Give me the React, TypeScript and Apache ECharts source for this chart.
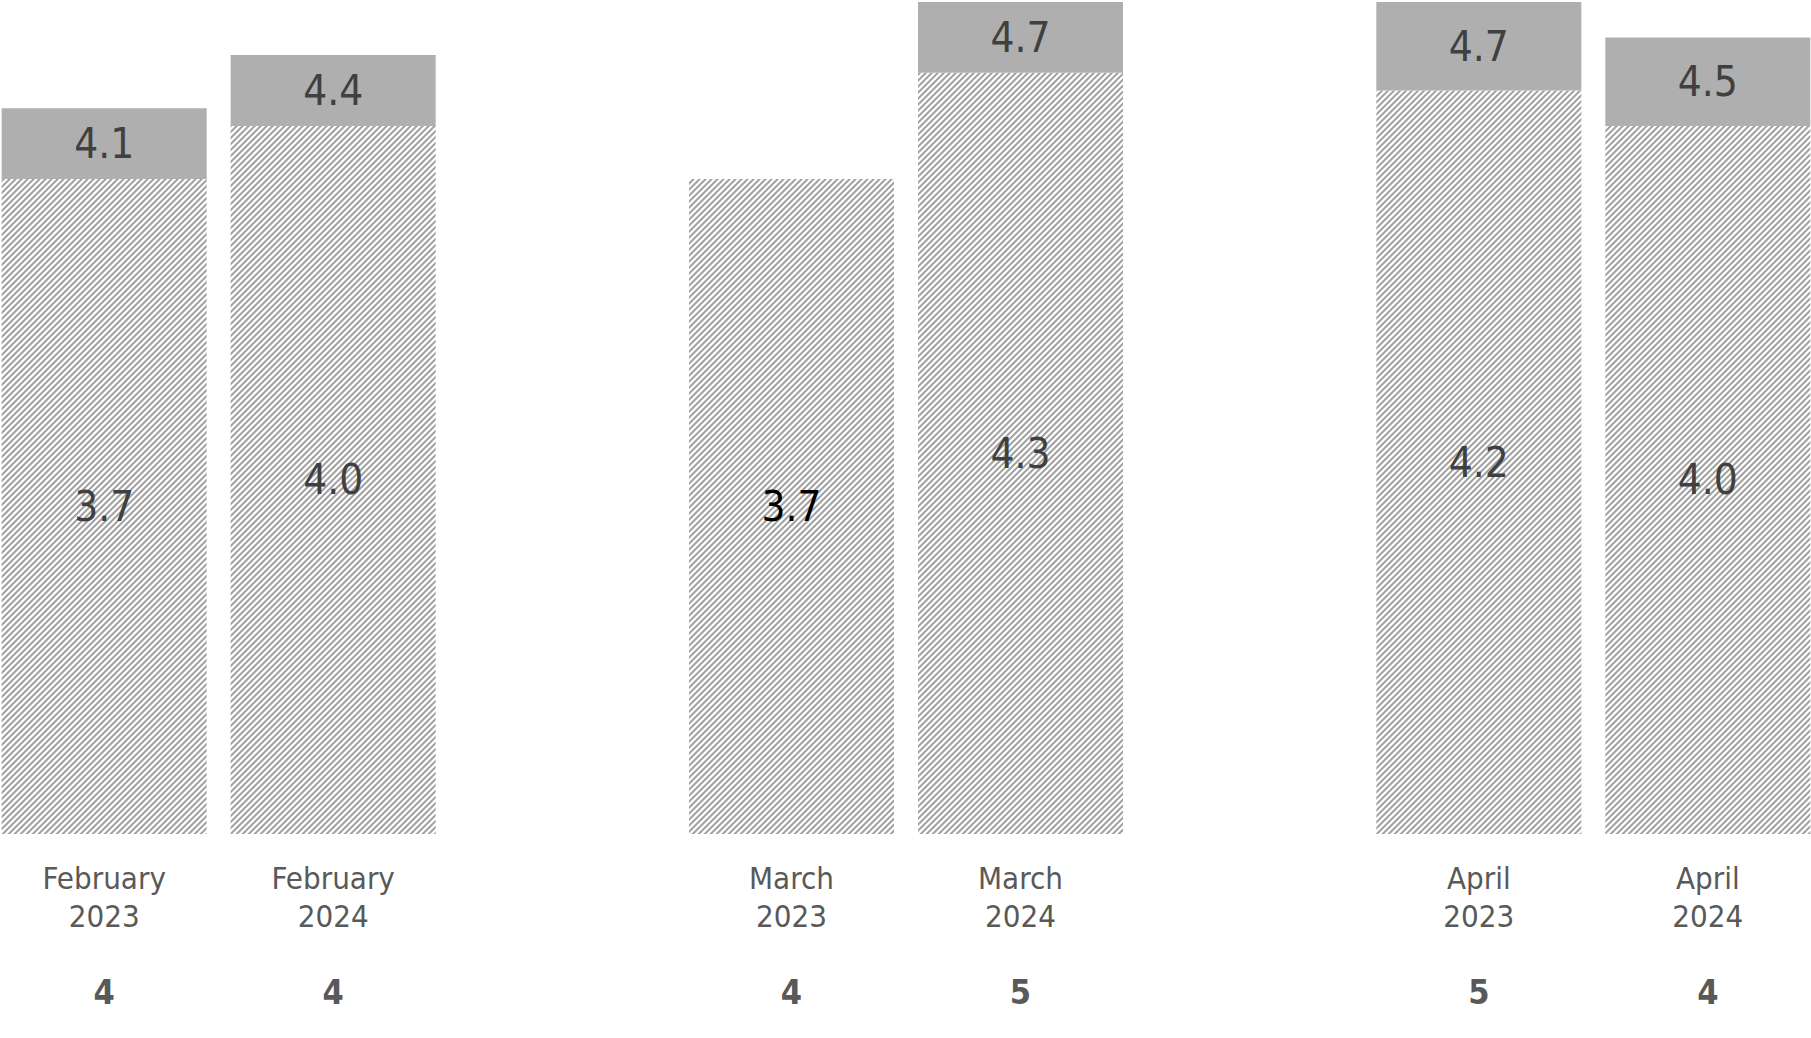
import React, { useEffect, useRef } from 'react';
import * as echarts from 'echarts';

const months = ['February', 'March', 'April'];
const years = ['2023', '2024'];
const base2023 = [3.7, 3.7, 4.2];
const base2024 = [4.0, 4.3, 4.0];
const total2023: (number | null)[] = [4.1, null, 4.7];
const total2024: (number | null)[] = [4.4, 4.7, 4.5];
const count2023 = [4, 4, 5];
const count2024 = [4, 5, 4];

const baseLabelColor2023 = ['#404040', '#000000', '#404040'];
const baseLabelColor2024 = ['#404040', '#404040', '#404040'];

const FONT = "'DejaVu Sans Condensed', 'DejaVu Sans', sans-serif";
const TILE = 6;

function makeHatch(): string {
  const n = TILE;
  const c = document.createElement('canvas');
  c.width = n;
  c.height = n;
  const ctx = c.getContext('2d')!;
  for (let y = 0; y < n; y++) {
    for (let x = 0; x < n; x++) {
      const d = (x + y) % n;
      ctx.fillStyle =
        d === 0 || d === 1 ? '#a2a2a2' : d === 2 ? '#c4c4c4' : d === 5 ? '#e6e6e6' : '#ffffff';
      ctx.fillRect(x, y, 1, 1);
    }
  }
  return c.toDataURL();
}

function yearSeries(
  stack: string,
  year: string,
  base: number[],
  total: (number | null)[],
  counts: number[],
  labelColors: string[],
  hatch: string
): any[] {
  return [
    {
      type: 'bar',
      stack,
      barWidth: 205,
      barGap: '11.7%',
      silent: true,
      data: base.map(() => 0),
      itemStyle: { color: 'transparent' },
      label: {
        show: true,
        position: 'bottom',
        distance: 25,
        lineHeight: 38,
        formatter: (p: any) =>
          `{a|${months[p.dataIndex]}}\n{a|${year}}\n{a| }\n{b|${counts[p.dataIndex]}}`,
        rich: {
          a: { fontSize: 31, lineHeight: 38, color: '#595959', fontFamily: FONT },
          b: { fontSize: 34, lineHeight: 38, color: '#595959', fontFamily: FONT, fontWeight: 'bold' },
        },
      },
    },
    {
      type: 'bar',
      stack,
      barWidth: 205,
      barGap: '11.7%',
      data: base.map((v, i) => ({ value: v, label: { color: labelColors[i] } })),
      itemStyle: {
        color: { image: hatch, repeat: 'repeat', imageWidth: TILE, imageHeight: TILE },
      },
      label: {
        show: true,
        position: 'inside',
        fontSize: 42,
        fontFamily: FONT,
        formatter: (p: any) => base[p.dataIndex].toFixed(1),
      },
    },
    {
      type: 'bar',
      stack,
      barWidth: 205,
      barGap: '11.7%',
      data: total.map((t, i) => (t == null ? null : +(t - base[i]).toFixed(2))),
      itemStyle: { color: '#afafaf' },
      label: {
        show: true,
        position: 'inside',
        fontSize: 42,
        fontFamily: FONT,
        color: '#404040',
        formatter: (p: any) => {
          const t = total[p.dataIndex];
          return t == null ? '' : t.toFixed(1);
        },
      },
    },
  ];
}

export default function App() {
  const ref = useRef<HTMLDivElement>(null);
  useEffect(() => {
    document.body.style.margin = '0';
    if (!ref.current) return;
    const chart = echarts.init(ref.current, undefined, { renderer: 'svg' });
    const hatch = makeHatch();
    chart.setOption({
      animation: false,
      backgroundColor: '#ffffff',
      grid: { left: 0, right: 0, top: 2, bottom: 204, containLabel: false },
      xAxis: {
        type: 'category',
        data: months,
        axisLine: { show: false },
        axisTick: { show: false },
        axisLabel: { show: false },
        splitLine: { show: false },
      },
      yAxis: {
        type: 'value',
        min: 0,
        max: 4.7,
        show: false,
        splitLine: { show: false },
      },
      series: [
        ...yearSeries('y' + years[0], years[0], base2023, total2023, count2023, baseLabelColor2023, hatch),
        ...yearSeries('y' + years[1], years[1], base2024, total2024, count2024, baseLabelColor2024, hatch),
      ],
    });
    return () => chart.dispose();
  }, []);
  return (
    <div style={{ position: 'relative', width: 1811, height: 1038, overflow: 'hidden', background: '#ffffff' }}>
      <div ref={ref} style={{ position: 'absolute', left: -125, top: 0, width: 2062, height: 1038 }} />
    </div>
  );
}
